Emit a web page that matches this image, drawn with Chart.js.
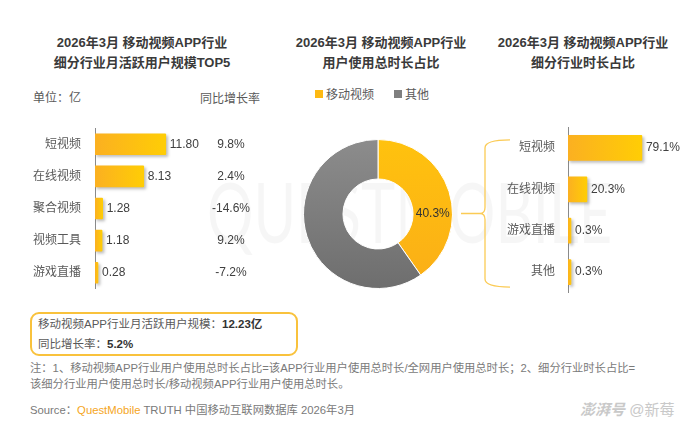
<!DOCTYPE html>
<html>
<head>
<meta charset="utf-8">
<script src="https://cdn.jsdelivr.net/npm/chart.js@4.4.1/dist/chart.umd.min.js"></script>
<style>
    body {
        margin: 0;
        width: 690px;
        height: 425px;
        position: relative;
        overflow: hidden;
        background: #fff;
        font-family: "Liberation Sans", "Noto Sans CJK SC", sans-serif;
        color: #595959;
    }
    .abs { position: absolute; white-space: nowrap; }
    .title { font-size: 13px; font-weight: bold; color: #3a3a3a; line-height: 20px; text-align: center; width: 240px; }
    .small { font-size: 12px; }
    .box { left: 30px; top: 312px; width: 258px; height: 40px; border: 2px solid #f9c23c; border-radius: 9px; font-size: 11.5px; line-height: 20px; padding-left: 6px; }
    .box b { color: #333; }
    .note { font-size: 11.3px; color: #7a7a7a; line-height: 16px; }
    .legend span.sq { display: inline-block; width: 8px; height: 8px; margin-right: 3px; vertical-align: 1px; }
    .legend span.item { margin-right: 20px; }
    .wm { font-family: Lato, sans-serif; font-size: 84px; font-weight: 400; color: rgba(0,0,0,0.035); left: 207px; top: 160px; transform: scaleX(0.69); transform-origin: left top; }
</style>
</head>
<body>
<div class="abs wm">QUESTMOBILE</div>

<div class="abs title" style="left:22px;top:33px">2026年3月 移动视频APP行业<br>细分行业月活跃用户规模TOP5</div>
<div class="abs title" style="left:261px;top:33px">2026年3月 移动视频APP行业<br>用户使用总时长占比</div>
<div class="abs title" style="left:463px;top:33px">2026年3月 移动视频APP行业<br>细分行业时长占比</div>

<div class="abs small" style="left:33px;top:88px">单位：亿</div>
<div class="abs small" style="left:200px;top:89px">同比增长率</div>
<div class="abs small legend" id="legend" style="left:315px;top:85px"></div>

<canvas id="mau" class="abs" width="270" height="203" style="left:20px;top:107px"></canvas>
<canvas id="share" class="abs" width="150" height="150" style="left:303px;top:139px"></canvas>
<canvas id="seg" class="abs" width="235" height="206" style="left:455px;top:107px"></canvas>

<div class="abs box">移动视频APP行业月活跃用户规模：<b>12.23亿</b><br>同比增长率：<b>5.2%</b></div>

<div class="abs note" style="left:30px;top:360px">注：1、移动视频APP行业用户使用总时长占比=该APP行业用户使用总时长/全网用户使用总时长；2、细分行业时长占比=<br>该细分行业用户使用总时长/移动视频APP行业用户使用总时长。</div>
<div class="abs note" style="left:30px;top:402px">Source：<span style="color:#f5a623">QuestMobile</span> TRUTH 中国移动互联网数据库 2026年3月</div>
<div class="abs" style="left:580px;top:398px;font-size:15px;color:#c9c9c9"><i style="font-weight:bold">澎湃号</i> @新莓</div>

<script>
const mauCats = ['短视频', '在线视频', '聚合视频', '视频工具', '游戏直播'];
const mauValues = [11.80, 8.13, 1.28, 1.18, 0.28];
const mauGrowth = [9.8, 2.4, -14.6, 9.2, -7.2];

const shareLabels = ['移动视频', '其他'];
const shareValues = [40.3, 59.7];
const shareColors = ['#fdb913', '#7f7f7f'];

const segCats = ['短视频', '在线视频', '游戏直播', '其他'];
const segValues = [79.1, 20.3, 0.3, 0.3];

const FONT = '"Liberation Sans", "Noto Sans CJK SC", sans-serif';
const TXT = '#404040';

// legend for the donut
document.getElementById('legend').innerHTML = shareLabels.map((l, i) =>
    `<span class="item"><span class="sq" style="background:${shareColors[i]}"></span>${l}</span>`).join('');

// gradient along each bar
function barFill(ctx) {
    const chart = ctx.chart;
    const xs = chart.scales.x;
    if (!xs || !chart.chartArea || ctx.raw === undefined) return '#fdbc18';
    const x0 = xs.getPixelForValue(0);
    const x1 = Math.max(xs.getPixelForValue(ctx.raw), x0 + 4);
    const g = chart.ctx.createLinearGradient(x0, 0, x1, 0);
    g.addColorStop(0, '#fbb021');
    g.addColorStop(1, '#ffcd05');
    return g;
}

const shadowPlugin = {
    id: 'shadow',
    beforeDatasetsDraw(chart) {
        const c = chart.ctx;
        c.save();
        c.shadowColor = 'rgba(0,0,0,0.25)';
        c.shadowOffsetX = 2;
        c.shadowOffsetY = 2;
        c.shadowBlur = 3;
    },
    afterDatasetsDraw(chart) {
        chart.ctx.restore();
    }
};

function valueLabels(fmt, growthX) {
    return {
        id: 'values',
        afterDatasetsDraw(chart) {
            const c = chart.ctx;
            const meta = chart.getDatasetMeta(0);
            c.save();
            c.font = '12px ' + FONT;
            c.fillStyle = TXT;
            c.textBaseline = 'middle';
            meta.data.forEach((bar, i) => {
                const v = chart.data.datasets[0].data[i];
                c.textAlign = 'left';
                c.fillText(fmt(v), bar.x + 4, bar.y);
                if (growthX) {
                    c.textAlign = 'center';
                    c.fillText(mauGrowth[i].toFixed(1) + '%', growthX, bar.y);
                }
            });
            c.restore();
        }
    };
}

function hbarOptions(max, axisWidth, pad, rightPad) {
    return {
        indexAxis: 'y',
        responsive: false,
        animation: false,
        layout: {padding: {left: 0, right: rightPad, top: 0, bottom: 0}},
        plugins: {legend: {display: false}, tooltip: {enabled: false}},
        scales: {
            x: {display: false, min: 0, max: max},
            y: {
                grid: {display: false, drawTicks: false},
                border: {display: true, color: '#8a8a8a', width: 1},
                ticks: {color: '#595959', font: {size: 12, family: FONT}, padding: pad},
                afterFit(scale) { scale.width = axisWidth; }
            }
        }
    };
}

new Chart(document.getElementById('mau'), {
    type: 'bar',
    data: {
        labels: mauCats,
        datasets: [{data: mauValues, backgroundColor: barFill, barThickness: 21, minBarLength: 3, borderRadius: 1}]
    },
    options: hbarOptions(25, 75, 14, 45),
    plugins: [shadowPlugin, valueLabels(v => v.toFixed(2), 211)]
});

// bracket that ties the donut slice to the segment chart
const bracketPlugin = {
    id: 'bracket',
    afterDraw(chart) {
        const y = chart.scales.y;
        const top = y.getPixelForValue(0) - 8;
        const bottom = y.getPixelForValue(segCats.length - 1) + 15;
        const mid = (top + bottom) / 2;
        const c = chart.ctx;
        c.save();
        c.strokeStyle = '#fbcb55';
        c.lineWidth = 1.3;
        c.beginPath();
        c.moveTo(55, top);
        c.quadraticCurveTo(30, top, 30, top + 8);
        c.lineTo(30, mid - 6);
        c.quadraticCurveTo(30, mid, 25, mid);
        c.quadraticCurveTo(30, mid, 30, mid + 6);
        c.lineTo(30, bottom - 8);
        c.quadraticCurveTo(30, bottom, 55, bottom);
        c.moveTo(6, mid);
        c.lineTo(25, mid);
        c.stroke();
        c.restore();
    }
};

new Chart(document.getElementById('seg'), {
    type: 'bar',
    data: {
        labels: segCats,
        datasets: [{data: segValues, backgroundColor: barFill, barThickness: 25, minBarLength: 3, borderRadius: 1}]
    },
    options: hbarOptions(107, 113, 13, 22),
    plugins: [shadowPlugin, valueLabels(v => v.toFixed(1) + '%'), bracketPlugin]
});

// donut
const donutLabel = {
    id: 'donutLabel',
    afterDatasetsDraw(chart) {
        const arc = chart.getDatasetMeta(0).data[0];
        const p = arc.getProps(['x', 'y', 'innerRadius', 'outerRadius']);
        const c = chart.ctx;
        c.save();
        c.font = '12px ' + FONT;
        c.fillStyle = '#333';
        c.textAlign = 'center';
        c.textBaseline = 'middle';
        c.fillText(shareValues[0].toFixed(1) + '%', p.x + (p.innerRadius + p.outerRadius) / 2, p.y);
        c.restore();
    }
};

function donutFill(ctx) {
    const chart = ctx.chart;
    const area = chart.chartArea;
    if (!area) return shareColors[ctx.dataIndex];
    const g = chart.ctx.createLinearGradient(0, area.top, 0, area.bottom);
    if (ctx.dataIndex === 0) {
        g.addColorStop(0, '#ffc20e');
        g.addColorStop(1, '#fbae17');
    } else {
        g.addColorStop(0, '#8c8c8c');
        g.addColorStop(1, '#6e6e6e');
    }
    return g;
}

new Chart(document.getElementById('share'), {
    type: 'doughnut',
    data: {
        labels: shareLabels,
        datasets: [{data: shareValues, backgroundColor: donutFill, borderColor: '#fff', borderWidth: 1}]
    },
    options: {
        responsive: false,
        animation: false,
        cutout: '47%',
        plugins: {legend: {display: false}, tooltip: {enabled: false}}
    },
    plugins: [donutLabel]
});
</script>
</body>
</html>
